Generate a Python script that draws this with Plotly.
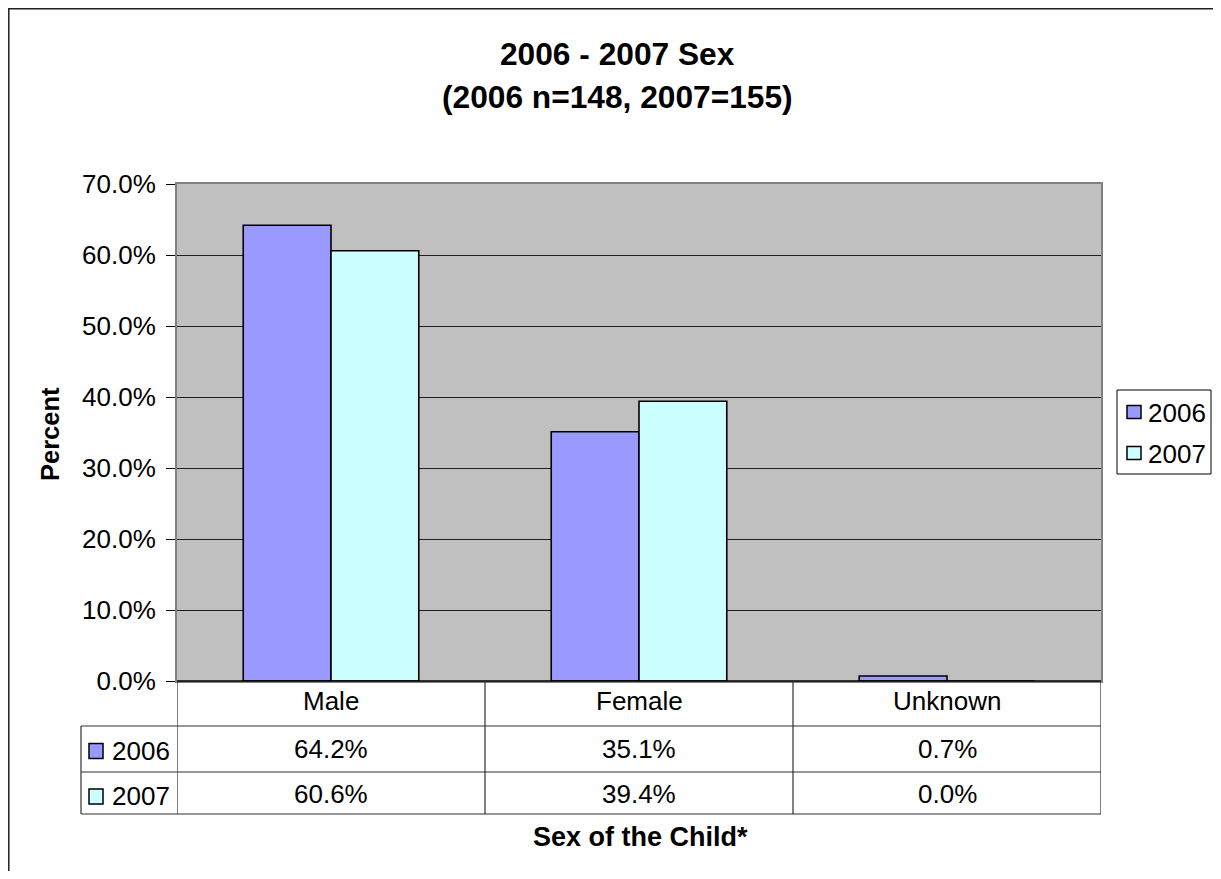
import plotly.graph_objects as go

# ---------------- data ----------------
categories = ["Male", "Female", "Unknown"]
series_names = ["2006", "2007"]
values_2006 = [0.642, 0.351, 0.007]
values_2007 = [0.606, 0.394, 0.000]
y_tick_values = [0.0, 0.1, 0.2, 0.3, 0.4, 0.5, 0.6, 0.7]
title_lines = ["2006 - 2007 Sex", "(2006 n=148, 2007=155)"]
y_title = "Percent"
x_title = "Sex of the Child*"

series_values = [values_2006, values_2007]
colors = ["#9999FF", "#CCFFFF"]

# ---------------- layout helpers (screen pixel -> paper) ----------------
OFF = 8                       # default body margin of the html page
W, H = 1221 - 2 * OFF, 879 - 2 * OFF
L, R, T, B = 177, 1101, 184, 681   # plot area box in screen pixels


def px(xp):
    return (xp - L) / (R - L)


def py(yp):
    return (B - yp) / (B - T)


FONT = "Arial, 'Liberation Sans', sans-serif"
FS = 26

fig = go.Figure()
for name, vals, col in zip(series_names, series_values, colors):
    fig.add_trace(go.Bar(
        x=categories, y=vals, name=name,
        marker=dict(color=col, line=dict(color="black", width=1.6)),
        showlegend=False,
    ))

shapes = []
annotations = []

# outer chart frame (right/bottom edges lie outside the picture)
shapes.append(dict(type="rect", xref="paper", yref="paper",
                   x0=px(8.8), x1=px(1240), y0=py(900), y1=py(8.8),
                   line=dict(color="#202020", width=1.5), layer="below"))

# black line at the bottom of the plot area
shapes.append(dict(type="line", xref="paper", yref="paper",
                   x0=0, x1=1, y0=0, y1=0,
                   line=dict(color="black", width=1.5), layer="above"))

tbl_line = dict(color="#303030", width=1.2)
row_lines = [726, 772, 814]
for yl in row_lines:
    shapes.append(dict(type="line", xref="paper", yref="paper",
                       x0=px(81), x1=1, y0=py(yl), y1=py(yl), line=tbl_line))
shapes.append(dict(type="line", xref="paper", yref="paper",
                   x0=px(81), x1=px(81), y0=py(726), y1=py(814), line=tbl_line))
for xb in [-0.5, 0.5, 1.5, 2.5]:
    shapes.append(dict(type="line", xref="x", yref="paper",
                       x0=xb, x1=xb, y0=0, y1=py(814), line=tbl_line))

# legend (frame, keys, names)
shapes.append(dict(type="rect", xref="paper", yref="paper",
                   x0=px(1117), x1=px(1211), y0=py(474), y1=py(390),
                   line=dict(color="black", width=1), fillcolor="white",
                   layer="above"))
for name, col, yc in zip(series_names, colors, [412, 453]):
    shapes.append(dict(type="rect", xref="paper", yref="paper",
                       x0=px(1127), x1=px(1141), y0=py(yc + 6.5), y1=py(yc - 6.5),
                       fillcolor=col, line=dict(color="black", width=1.5),
                       layer="above"))
    annotations.append(dict(x=px(1146), xref="paper", y=py(yc + 1), yref="paper",
                            text=name, showarrow=False, xanchor="left",
                            yanchor="middle",
                            font=dict(family=FONT, size=FS, color="black")))

# header row (categories)
for c in categories:
    annotations.append(dict(x=c, xref="x", y=py(700.5), yref="paper",
                            text=c, showarrow=False, yanchor="middle",
                            font=dict(family=FONT, size=FS, color="black")))

row_centers = [748.5, 794]
for name, vals, col, yc in zip(series_names, series_values, colors, row_centers):
    shapes.append(dict(type="rect", xref="paper", yref="paper",
                       x0=px(89), x1=px(103), y0=py(yc + 10), y1=py(yc - 5),
                       fillcolor=col, line=dict(color="black", width=1.5)))
    annotations.append(dict(x=px(110), xref="paper", y=py(yc + 2), yref="paper",
                            text=name, showarrow=False, xanchor="left",
                            yanchor="middle",
                            font=dict(family=FONT, size=FS, color="black")))
    for c, v in zip(categories, vals):
        annotations.append(dict(x=c, xref="x", y=py(yc), yref="paper",
                                text=f"{v * 100:.1f}%", showarrow=False,
                                yanchor="middle",
                                font=dict(family=FONT, size=FS, color="black")))

# axis titles
annotations.append(dict(x=px(50), xref="paper", y=py(434), yref="paper",
                        text=f"<b>{y_title}</b>", textangle=-90, showarrow=False,
                        xanchor="center", yanchor="middle",
                        font=dict(family=FONT, size=25.5, color="black")))
annotations.append(dict(x=px(640), xref="paper", y=py(837), yref="paper",
                        text=f"<b>{x_title}</b>", showarrow=False,
                        xanchor="center", yanchor="middle",
                        font=dict(family=FONT, size=27, color="black")))

# title lines
for line, yc in zip(title_lines, [54, 97]):
    annotations.append(dict(x=px(617), xref="paper", y=py(yc), yref="paper",
                            text=f"<b>{line}</b>", showarrow=False,
                            xanchor="center", yanchor="middle",
                            font=dict(family=FONT, size=31.7, color="black")))

fig.update_layout(
    width=W, height=H,
    margin=dict(l=L - OFF, r=W - (R - OFF), t=T - OFF, b=H - (B - OFF),
                pad=0, autoexpand=False),
    paper_bgcolor="white",
    plot_bgcolor="#C0C0C0",
    barmode="group", bargap=0.43, bargroupgap=0,
    showlegend=False,
    xaxis=dict(type="category", range=[-0.5, 2.5], showticklabels=False,
               showgrid=False, zeroline=False, ticks="",
               showline=True, linecolor="#808080", linewidth=2, mirror=True),
    yaxis=dict(range=[0, 0.7], tickvals=y_tick_values, tickformat=".1%",
               showgrid=True, gridcolor="#202020", gridwidth=1, zeroline=False,
               ticks="outside", ticklen=9, tickcolor="black", tickwidth=1,
               ticklabelstandoff=5,
               showline=True, linecolor="#808080", linewidth=2, mirror=True,
               tickfont=dict(family=FONT, size=FS, color="black")),
    shapes=shapes,
    annotations=annotations,
    font=dict(family=FONT, color="black"),
)

fig.write_html("out.html")
